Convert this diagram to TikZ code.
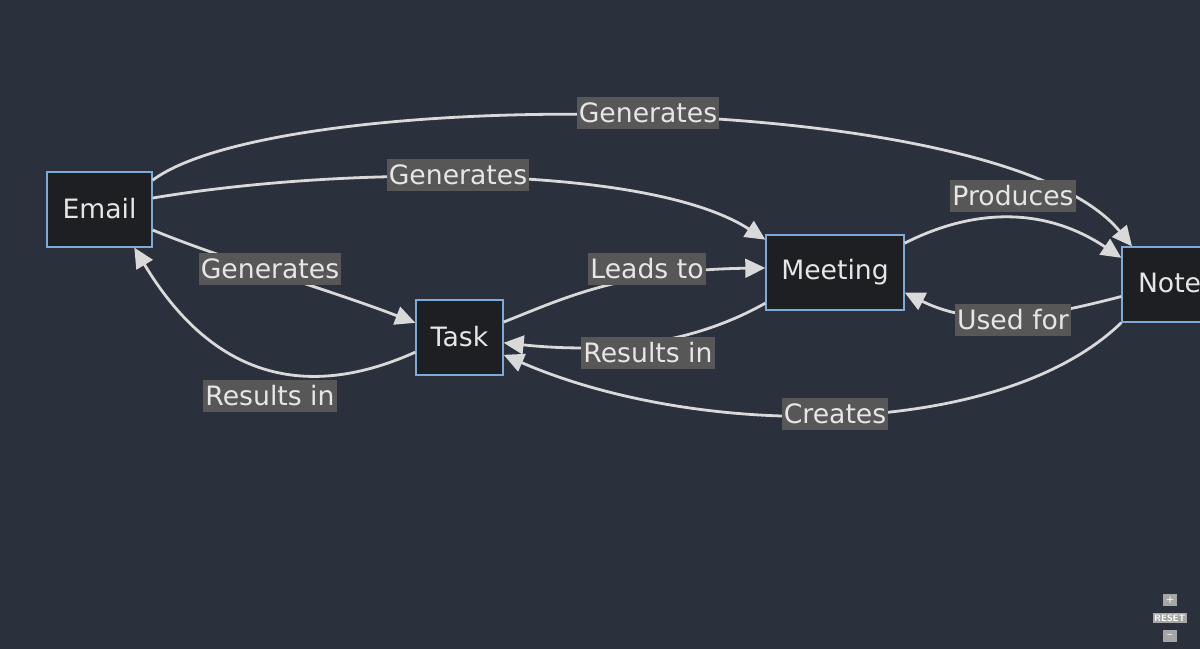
\documentclass[tikz,border=0pt]{standalone}
\usepackage{fontspec}
\setmainfont{DejaVu Sans}
\usetikzlibrary{arrows.meta}
\definecolor{bg}{HTML}{2B303D}
\definecolor{nodefill}{HTML}{1E1F22}
\definecolor{nodeline}{HTML}{7FAAD8}
\definecolor{txt}{HTML}{E6E6E6}
\definecolor{edge}{HTML}{D9D9D9}
\definecolor{lblbg}{HTML}{575757}
\tikzset{
  box/.style={draw=nodeline, line width=1pt, fill=nodefill, text=txt, font=\fontsize{20}{24}\selectfont, minimum height=56.25pt, inner sep=0pt},
  lbl/.style={fill=lblbg, text=txt, font=\fontsize{20}{24}\selectfont, inner sep=1.5pt, minimum height=24pt},
  arr/.style={draw=edge, line width=2.1pt, -{Triangle[length=15pt,width=14pt]}},
}
\begin{document}
\begin{tikzpicture}[x=0.75pt,y=-0.75pt]
\fill[bg] (0,0) rectangle (1200,649);
\useasboundingbox (0,0) rectangle (1200,649);
\node[box, minimum width=78.75pt] (email) at (99.5,209.5) {\raisebox{2pt}{Email}};
\node[box, minimum width=65.25pt] (task) at (459.5,337.5) {\raisebox{2pt}{Task}};
\node[box, minimum width=103.5pt] (meeting) at (835,272.5) {\raisebox{2pt}{Meeting}};
\node[box, minimum width=81pt, text width=75pt, align=left] (note) at (1176,284.5) {\hspace{9pt}\raisebox{2pt}{Notes}};
% edges
\draw[arr] ([yshift=22pt]email.east) .. controls (280,85) and (1000,85) .. ([xshift=8pt]note.north west);
\draw[arr] ([yshift=8.6pt]email.east) .. controls (350,165) and (650,165) .. ([yshift=-4pt]meeting.north west);
\draw[arr] ([yshift=-15.4pt]email.east) .. controls (220,258) and (330,290) .. ([yshift=11pt]task.west);
\draw[arr] ([yshift=-11pt]task.west) .. controls (320,395) and (220,390) .. ([xshift=66pt]email.south west);
\draw[arr] ([yshift=11.6pt]task.east) .. controls (560,300) and (620,270) .. ([yshift=3.4pt]meeting.west);
\draw[arr] ([yshift=-23pt]meeting.west) .. controls (700,340) and (620,355) .. ([yshift=-4pt]task.east);
\draw[arr] ([yshift=22pt]meeting.east) .. controls (980,205) and (1050,210) .. ([yshift=20pt]note.west);
\draw[arr] ([yshift=-9pt]note.west) .. controls (1050,315) and (980,330) .. ([yshift=-15pt]meeting.east);
\draw[arr] (note.south west) .. controls (1000,440) and (700,440) .. ([yshift=-13pt]task.east);
% labels
\node[lbl] (l1) at (648,113) {Generates};
\node[lbl] (l2) at (458,175) {Generates};
\node[lbl] (l3) at (270,269) {Generates};
\node[lbl] (l4) at (270,396) {Results in};
\node[lbl] (l5) at (647,269) {Leads to};
\node[lbl] (l6) at (648,353) {Results in};
\node[lbl] (l7) at (1013,196) {Produces};
\node[lbl] (l8) at (1013,320) {Used for};
\node[lbl] (l9) at (835,414) {Creates};
% zoom controls
\tikzset{ctl/.style={fill=gray!70, text=white, font=\sffamily\bfseries\fontsize{7}{8}\selectfont, inner sep=1pt}}
\node[ctl, minimum width=10pt, minimum height=9pt] (plus) at (1170,600) {+};
\node[ctl] (reset) at (1170,618) {RESET};
\node[ctl, minimum width=10pt, minimum height=9pt] (minus) at (1170,636) {--};
\end{tikzpicture}
\end{document}
